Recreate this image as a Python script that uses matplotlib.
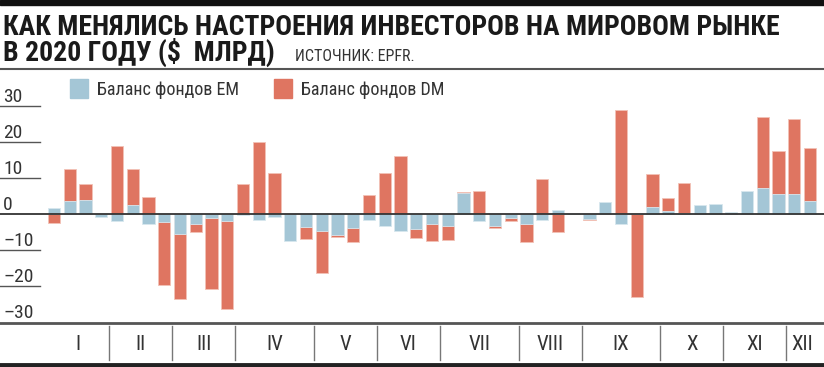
import matplotlib.pyplot as plt
import matplotlib.patches as mpatches
from matplotlib.lines import Line2D
import numpy as np

plt.rcParams['font.family'] = ['Roboto Condensed', 'PT Sans Narrow', 'Fira Sans Condensed', 'DejaVu Sans']

# weekly fund flows, $ bn, 2020
months = ['I', 'II', 'III', 'IV', 'V', 'VI', 'VII', 'VIII', 'IX', 'X', 'XI', 'XII']
weeks_per_month = [4, 4, 4, 5, 4, 4, 5, 4, 5, 4, 4, 2]
em = [1.8, 3.7, 3.9, -0.9,
      -1.9, 2.6, -2.9, -2.2,
      -5.5, -2.7, -1.1, -1.9,
      -0.3, -1.7, -0.8, -7.5, -3.6,
      -4.7, -5.8, -3.8, -1.7,
      -3.2, -4.7, -4.2, -2.9,
      -3.3, 5.9, -1.9, -3.2, -1.2,
      -2.9, -1.7, 1.1, 0.0,
      -1.5, 3.3, -2.7, 0.0, 1.9,
      0.8, 0.4, 2.6, 2.8,
      0.6, 6.4, 7.1, 5.6,
      5.6, 3.7]
dm = [-2.6, 12.5, 8.4, 0.0,
      18.9, 12.5, 4.8, -19.7,
      -23.6, -4.9, -20.9, -26.5,
      8.4, 19.9, 11.4, 0.0, -6.9,
      -16.5, -6.4, -7.7, 5.3,
      11.3, 16.1, -6.6, -7.4,
      -7.2, 6.1, 6.4, -4.0, -2.0,
      -7.7, 9.6, -5.0, 0.0,
      -1.8, 0.0, 28.9, -23.1, 11.0,
      4.4, 8.5, 0.0, 0.0,
      0.0, 0.0, 27.0, 17.6,
      26.3, 18.2]
yticks = [30, 20, 10, 0, -10, -20, -30]

blue = '#a4c6d6'
red = '#df7561'
W, H = 824, 367

fig = plt.figure(figsize=(W / 100, H / 100), dpi=100)

def fx(px):
    return px / W

def fy(py):
    return 1 - py / H

# header
fig.add_artist(mpatches.Rectangle((0, fy(5)), 1, 5 / H, color='#111111', transform=fig.transFigure))
fig.text(fx(3), fy(35), 'КАК МЕНЯЛИСЬ НАСТРОЕНИЯ ИНВЕСТОРОВ НА МИРОВОМ РЫНКЕ',
         fontsize=20, weight='bold', color='#1a1a1a', va='baseline')
t2 = fig.text(fx(3), fy(61), 'В 2020 ГОДУ ($  МЛРД)',
              fontsize=20, weight='bold', color='#1a1a1a', va='baseline')
# put the source note just after the second title line
bb = t2.get_window_extent(renderer=fig.canvas.get_renderer())
fig.text(fx(bb.x1 + 20), fy(61), 'ИСТОЧНИК: EPFR.', fontsize=11.5, color='#333333', va='baseline')
fig.add_artist(Line2D([0, 1], [fy(69), fy(69)], color='#555555', lw=1.5, transform=fig.transFigure))

# legend
for x0, c, lab in [(70, blue, 'Баланс фондов EM'), (274, red, 'Баланс фондов DM')]:
    fig.add_artist(mpatches.Rectangle((fx(x0), fy(98)), 18 / W, 19 / H, color=c,
                                      transform=fig.transFigure))
    fig.text(fx(x0 + 27), fy(95), lab, fontsize=13, color='#333333', va='baseline')

# main plot, x in week index, y in $ bn
ax = fig.add_axes([0, fy(322), 1, (322 - 95) / H])
x = np.arange(len(em))
ax.set_xlim((0 - 54) / 15.75, (W - 54) / 15.75)
ax.set_ylim(-(322 - 214) / 3.6, (214 - 95) / 3.6)
ax.axis('off')
ax.bar(x, dm, width=0.79, color=red, edgecolor='#f2c2b7', linewidth=0.6, zorder=2)
ax.bar(x, em, width=0.79, color=blue, edgecolor='#d8e7ee', linewidth=0.6, zorder=3)
ax.axhline(0, color='#333333', lw=1.3, zorder=4)

trans = ax.get_yaxis_transform()
for v in yticks:
    lab = str(v) if v >= 0 else '–' + str(-v)
    ax.text(0.004, v + 1.0, lab, transform=trans, fontsize=14, color='#333333',
            va='baseline', ha='left')
    if v not in (0, -30):
        ax.plot([0, 40 / W], [v, v], transform=trans, color='#555555', lw=1)

# month band
ax2 = fig.add_axes([0, 0, 1, fy(320)])
ax2.set_xlim(ax.get_xlim())
ax2.set_ylim(H, 320)
ax2.axis('off')
ax2.axhline(323, color='#555555', lw=2)
ax2.axhline(365, color='#222222', lw=3.5)
edges = np.cumsum(weeks_per_month)
starts = edges - np.array(weeks_per_month)
for e in edges[:-1]:
    ax2.plot([e - 0.5, e - 0.5], [326, 360], color='#777777', lw=1)
for s, e, m in zip(starts, edges, months):
    ax2.text((s + e - 1) / 2, 344.5, m, fontsize=15, color='#333333', ha='center', va='center')

fig.savefig('out.png', dpi=100)
